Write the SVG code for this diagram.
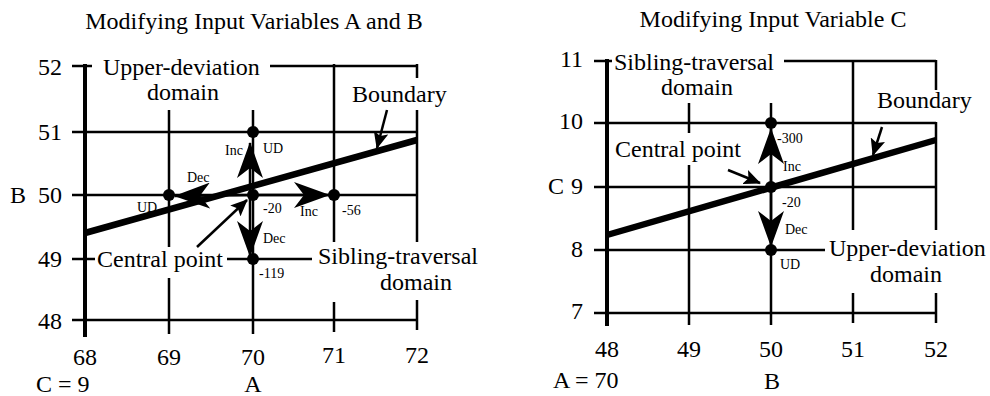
<svg xmlns="http://www.w3.org/2000/svg" width="990" height="396" viewBox="0 0 990 396" font-family="'Liberation Serif', 'Times New Roman', 'DejaVu Serif', serif">
<style>
text{font-family:'Liberation Serif','Times New Roman','DejaVu Serif',serif;fill:#000}
.big{font-size:24px}
.title{font-size:24px}
.sm{font-size:14px}
.mid{text-anchor:middle}
.end{text-anchor:end}
.grid{stroke:#000;stroke-width:2.5;fill:none}
.axis{stroke:#000;stroke-width:4;fill:none}
.bound{stroke:#000;stroke-width:6.5;fill:none}
.arr{stroke:#000;stroke-width:2.5;fill:none;marker-end:url(#bigHead)}
.ptr{stroke:#000;stroke-width:2.5;fill:none;marker-end:url(#smallHead)}
.dot{fill:#000}
</style>
<defs>
<marker id="bigHead" markerUnits="userSpaceOnUse" viewBox="0 0 36 26" markerWidth="36" markerHeight="26" refX="35" refY="13" orient="auto">
<path d="M36,13 L0,0 L10,13 L0,26 Z" fill="#000"/>
</marker>
<marker id="smallHead" markerUnits="userSpaceOnUse" viewBox="0 0 17 15" markerWidth="17" markerHeight="15" refX="16" refY="7.5" orient="auto">
<path d="M17,7.5 L0,0 L3.5,7.5 L0,15 Z" fill="#000"/>
</marker>
</defs>

<!-- LEFT CHART -->
<g id="left-title"><text class="title mid" x="254" y="29">Modifying Input Variables A and B</text></g>
<g id="left-grid">
<path class="axis" d="M85,64 V337"/>
<path class="grid" d="M72,66 H92 M270,66 H417 M72,132 H417 M72,195 H417 M72,259 H95 M227,259 H312 M72,320 H417"/>
<path class="grid" d="M169,110 V247 M169,278 V334 M253,110 V334 M334,64 V242 M334,302 V332 M417,64 V78 M417,110 V242 M417,300 V330"/>
</g>
<g id="left-axis-labels">
<text class="big end" x="62" y="75">52</text>
<text class="big end" x="62" y="140">51</text>
<text class="big" x="10" y="203">B</text>
<text class="big end" x="62" y="203">50</text>
<text class="big end" x="62" y="267">49</text>
<text class="big end" x="62" y="329">48</text>
<text class="big mid" x="85" y="365">68</text>
<text class="big mid" x="169" y="365">69</text>
<text class="big mid" x="253" y="365">70</text>
<text class="big mid" x="334" y="363">71</text>
<text class="big mid" x="417" y="363">72</text>
<text class="big" x="36" y="392">C = 9</text>
<text class="big mid" x="253" y="392">A</text>
</g>
<g id="left-boundary">
<path class="bound" d="M85,233 L417,140"/>
<text class="big" x="352" y="102">Boundary</text>
</g>
<g id="left-upper-deviation">
<text class="big" x="103" y="75">Upper-deviation</text>
<text class="big mid" x="183" y="100">domain</text>
</g>
<g id="left-sibling-traversal">
<text class="big" x="318" y="264">Sibling-traversal</text>
<text class="big mid" x="416" y="290">domain</text>
</g>
<g id="left-central-label">
<text class="big" x="97" y="267">Central point</text>
</g>
<g id="left-points">
<circle class="dot" cx="169" cy="195" r="6"/>
<circle class="dot" cx="253" cy="132" r="6"/>
<circle class="dot" cx="253" cy="195" r="6"/>
<circle class="dot" cx="334" cy="195" r="6"/>
<circle class="dot" cx="253" cy="259" r="6"/>
<text class="sm" x="225" y="155">Inc</text>
<text class="sm" x="263" y="153">UD</text>
<text class="sm" x="187" y="182">Dec</text>
<text class="sm" x="137" y="212">UD</text>
<text class="sm" x="263" y="213">-20</text>
<text class="sm" x="300" y="216">Inc</text>
<text class="sm" x="342" y="215">-56</text>
<text class="sm" x="263" y="243">Dec</text>
<text class="sm" x="259" y="278">-119</text>
</g>
<g id="left-connectors">
<path class="arr" d="M250,195 V143"/>
<path class="arr" d="M250,195 V256"/>
<path class="arr" d="M253,195 H329"/>
<path class="arr" d="M253,195 L175,196"/>
<path class="ptr" d="M197,247 L247,200"/>
<path class="ptr" d="M387,110 L377,148"/>
</g>

<!-- RIGHT CHART -->
<g id="right-title"><text class="title mid" x="773" y="27">Modifying Input Variable C</text></g>
<g id="right-grid">
<path class="axis" d="M607,59 V326"/>
<path class="grid" d="M594,61 H612 M784,61 H936 M594,123 H936 M594,187 H936 M594,250 H825 M594,313 H936"/>
<path class="grid" d="M689,103 V133 M689,165 V325 M771,103 V325 M853,60 V230 M853,293 V323 M936,60 V90 M936,122 V230 M936,293 V323"/>
</g>
<g id="right-axis-labels">
<text class="big end" x="583" y="67">11</text>
<text class="big end" x="583" y="129">10</text>
<text class="big" x="548" y="194">C</text>
<text class="big end" x="583" y="194">9</text>
<text class="big end" x="583" y="257">8</text>
<text class="big end" x="583" y="319">7</text>
<text class="big mid" x="607" y="357">48</text>
<text class="big mid" x="689" y="357">49</text>
<text class="big mid" x="771" y="357">50</text>
<text class="big mid" x="853" y="357">51</text>
<text class="big mid" x="936" y="357">52</text>
<text class="big" x="553" y="388">A = 70</text>
<text class="big mid" x="772" y="389">B</text>
</g>
<g id="right-boundary">
<path class="bound" d="M607,235 L936,140"/>
<text class="big" x="877" y="108">Boundary</text>
</g>
<g id="right-sibling-traversal">
<text class="big" x="614" y="70">Sibling-traversal</text>
<text class="big mid" x="697" y="95">domain</text>
</g>
<g id="right-upper-deviation">
<text class="big" x="829" y="256">Upper-deviation</text>
<text class="big mid" x="906" y="282">domain</text>
</g>
<g id="right-central-label">
<text class="big" x="615" y="157">Central point</text>
</g>
<g id="right-points">
<circle class="dot" cx="771" cy="123" r="6"/>
<circle class="dot" cx="771" cy="187" r="6"/>
<circle class="dot" cx="771" cy="250" r="6"/>
<text class="sm" x="777" y="143">-300</text>
<text class="sm" x="783" y="171">Inc</text>
<text class="sm" x="782" y="207">-20</text>
<text class="sm" x="785" y="234">Dec</text>
<text class="sm" x="780" y="269">UD</text>
</g>
<g id="right-connectors">
<path class="arr" d="M771,187 V129"/>
<path class="arr" d="M771,187 V246"/>
<path class="ptr" d="M728,170 L760,183"/>
<path class="ptr" d="M882,127 L873,155"/>
</g>
</svg>
